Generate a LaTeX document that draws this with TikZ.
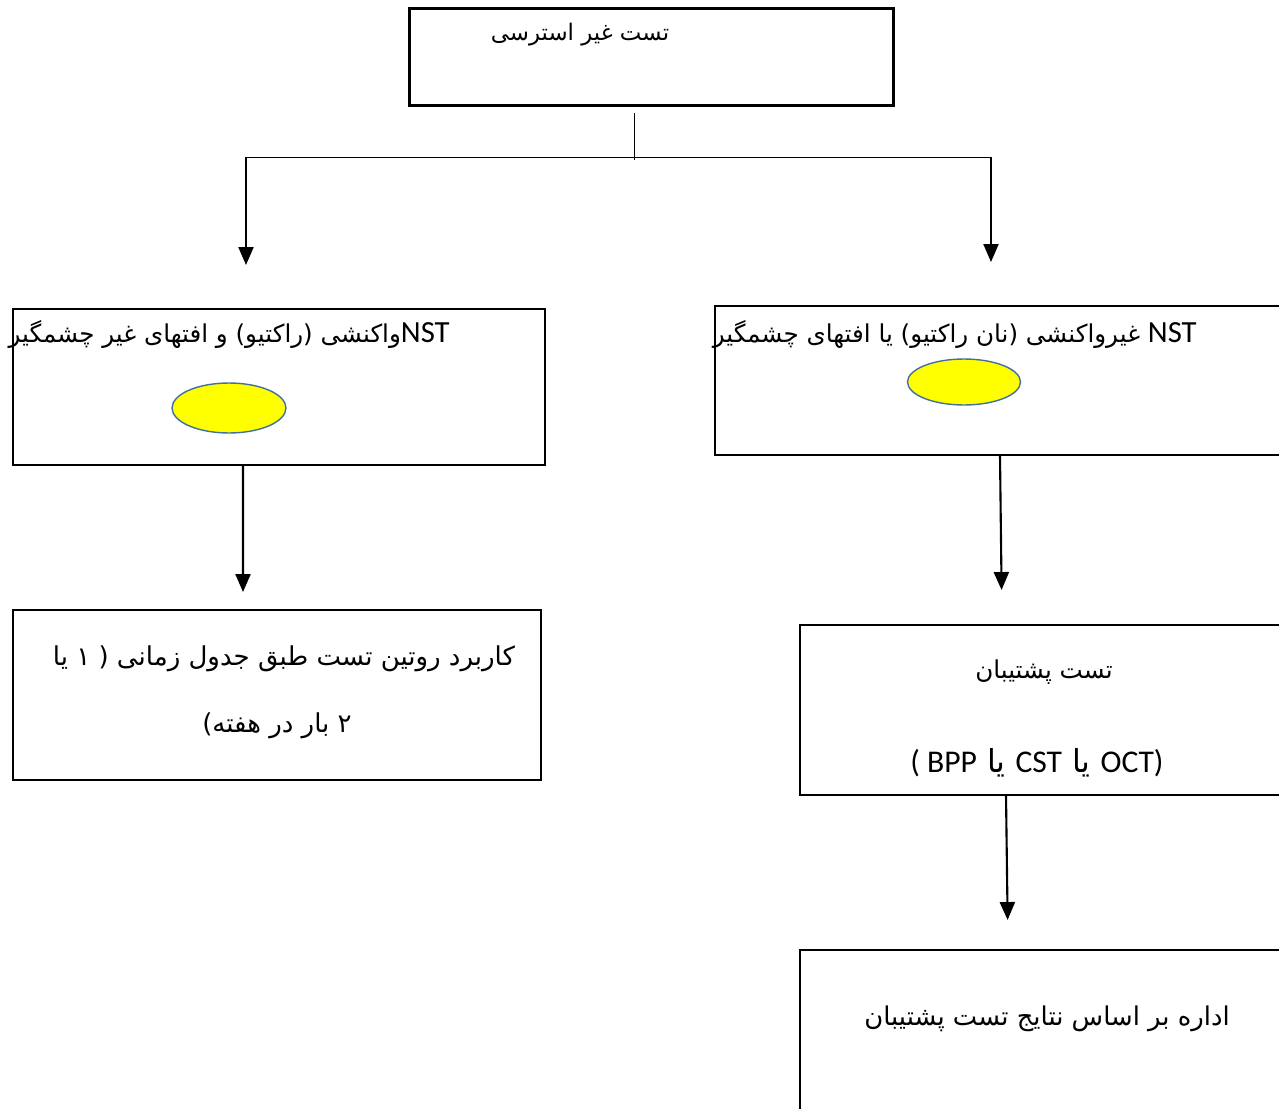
\documentclass[tikz,border=0pt]{standalone}
\usepackage{fontspec}
\newfontfamily\fa[Script=Arabic]{DejaVu Sans}
\newfontfamily\lat{Carlito}
\TeXXeTstate=1
\usetikzlibrary{
  arrows.meta,
  shapes.geometric
}
\definecolor{ink}{HTML}{000000}
\definecolor{spotfill}{HTML}{FFFF00}
\definecolor{spotline}{HTML}{41719C}
\newcommand{\nstmark}{{\lat\fontsize{17.5}{20}\selectfont NST}}
\tikzset{
  box/.style={
    draw=ink,
    line width=1.2pt,
    inner sep=0pt,
    outer sep=0pt
  },
  headbox/.style={
    box,
    line width=1.7pt
  },
  dot/.style={
    ellipse,
    draw=spotline,
    fill=spotfill,
    line width=0.8pt,
    inner sep=0pt
  },
  feed/.style={
    -{Triangle[length=3.6mm,width=3mm]},
    line width=1.2pt,
    draw=ink
  },
  branch/.style={
    line width=0.5pt,
    draw=ink
  },
  boxtext/.style={
    anchor=base,
    inner sep=0pt
  },
  sanstext/.style={
    boxtext,
    font=\fa\fontsize{14}{17}\selectfont
  },
  bigtext/.style={
    boxtext,
    font=\fa\fontsize{14.8}{18}\selectfont
  }
}

\begin{document}
\begin{tikzpicture}[x=0.02cm,y=-0.02cm]
  \clip (0,0) rectangle (1279,1109);
  \useasboundingbox (0,0) rectangle (1279,1109);

  % Boxes.
  \node[headbox, minimum width=9.7cm, minimum height=1.96cm]
    (top) at (651.5,57) {};
  \node[box, minimum width=10.64cm, minimum height=3.12cm]
    (nstA) at (279,387) {};
  \node[box, minimum width=11.7cm, minimum height=2.98cm]
    (nstB) at (1007.5,380.5) {};
  \node[box, minimum width=10.56cm, minimum height=3.4cm]
    (routine) at (277,695) {};
  \node[box, minimum width=9.8cm, minimum height=3.4cm]
    (backup) at (1045,710) {};
  \node[box, minimum width=9.8cm, minimum height=3.6cm]
    (manage) at (1045,1040) {};

  % Yellow marks.
  \node[dot, minimum width=2.28cm, minimum height=1cm] (dotA) at (229,408) {};
  \node[dot, minimum width=2.26cm, minimum height=0.92cm] (dotB) at (964,382) {};

  % Texts.
  \node[sanstext, font=\fa\fontsize{13}{16}\selectfont]
    (toptext) at (580,40) {\beginR تست غیر استرسی\endR};
  \node[sanstext, anchor=base east] (nstAtext) at (450,342)
    {\beginR\nstmark واکنشی (راکتیو) و افتهای غیر چشمگیر\endR};
  \node[sanstext, anchor=base east] (nstBtext) at (1197,342)
    {\beginR\nstmark{} غیرواکنشی (نان راکتیو) یا افتهای چشمگیر\endR};
  \node[bigtext] (routinetext) at (284,665)
    {\beginR کاربرد روتین تست طبق جدول زمانی ( ۱ یا\endR};
  \node[bigtext] (routinetext2) at (277,732)
    {\beginR ۲ بار در هفته)\endR};
  \node[bigtext, font=\fa\fontsize{14}{17}\selectfont]
    (backuptext) at (1044,678) {\beginR تست پشتیبان\endR};
  \node[bigtext, font=\fa\fontsize{18}{21}\selectfont] (backuptext2) at (1037,772)
    {{\lat ( BPP} یا {\lat CST} یا {\lat OCT)}};
  \node[bigtext, font=\fa\fontsize{14.7}{18}\selectfont]
    (managetext) at (1047,1025)
    {\beginR اداره بر اساس نتایج تست پشتیبان\endR};

  % Connectors.
  \coordinate (stem) at (634,113);
  \coordinate (split) at (634,160);
  \coordinate (splitL) at (246,157);
  \coordinate (splitR) at (991,157);
  \draw[branch] (stem) -- (split);
  \draw[branch] (splitL) -- (splitR);
  \draw[feed, shorten >=0.88cm] (splitL) -- (nstA.north -| splitL);
  \draw[feed, shorten >=0.88cm] (splitR) -- (nstB.north -| splitR);
  \draw[feed, shorten >=0.36cm]
    ([xshift=-0.72cm]nstA.south) -- ([xshift=-0.68cm]routine.north);
  \draw[feed, shorten >=0.7cm]
    ([xshift=-0.15cm]nstB.south) -- ([xshift=-0.86cm]backup.north);
  \draw[feed, shorten >=0.6cm]
    ([xshift=-0.78cm]backup.south) -- ([xshift=-0.74cm]manage.north);
\end{tikzpicture}
\end{document}
